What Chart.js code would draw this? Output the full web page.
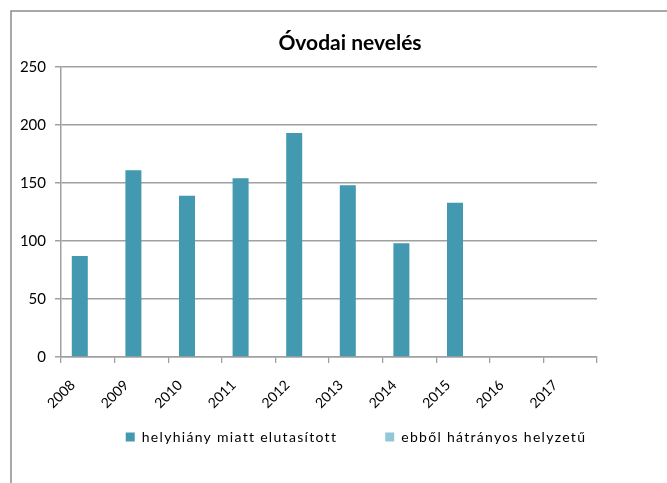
<!DOCTYPE html>
<html>
<head>
<meta charset="utf-8">
<script src="https://cdn.jsdelivr.net/npm/chart.js@4/dist/chart.umd.min.js"></script>
<style>
  html, body { margin: 0; padding: 0; background: #fff; overflow: hidden; }
  #wrap { position: absolute; left: 0; top: 0; width: 700px; height: 483px; }
</style>
</head>
<body>
<div id="wrap"><canvas id="chart" width="700" height="483"></canvas></div>
<script>
// evek (kategoriak)
const years = ['2008', '2009', '2010', '2011', '2012', '2013', '2014', '2015', '2016', '2017'];
// helyhiany miatt elutasitott
const elutasitott = [87, 161, 139, 154, 193, 148, 98, 133, null, null];
// ebbol hatranyos helyzetu - nincs oszlop a kepen
const hatranyos = [null, null, null, null, null, null, null, null, null, null];
const yMin = 0, yMax = 250, yStep = 50;

const gridColor = '#a0a0a0';
const fontFamily = 'Lato, "Open Sans", sans-serif';
const legendSpacing = '1.3px';
const legendShift = 6;

// kulso keret (bal es felso vonal)
const framePlugin = {
  id: 'frame',
  beforeDraw(chart) {
    const c = chart.ctx;
    c.save();
    c.strokeStyle = '#8c8c8c';
    c.lineWidth = 1.5;
    c.beginPath();
    c.moveTo(11, chart.height);
    c.lineTo(11, 11);
    c.lineTo(chart.width, 11);
    c.stroke();
    c.restore();
  }
};

// a jelmagyarazat szovege ritkitott, mint az eredetiben
const spacedLegend = {
  id: 'spacedLegend',
  beforeLayout(chart) {
    const lg = chart.legend;
    if (!lg || lg._spaced) return;
    lg._spaced = true;
    ['fit', 'draw'].forEach(fn => {
      const orig = lg[fn].bind(lg);
      lg[fn] = function (...args) {
        const c = chart.ctx;
        c.save();
        c.letterSpacing = legendSpacing;
        if (fn === 'draw') c.translate(legendShift, 0);
        const r = orig(...args);
        c.restore();
        return r;
      };
    });
  }
};

const ctx = document.getElementById('chart').getContext('2d');
new Chart(ctx, {
  type: 'bar',
  data: {
    labels: years,
    datasets: [{
      label: 'helyhiány miatt elutasított',
      data: elutasitott,
      backgroundColor: '#4299b0',
      borderWidth: 0
    }, {
      label: 'ebből hátrányos helyzetű',
      data: hatranyos,
      backgroundColor: '#93c6d6',
      borderWidth: 0
    }]
  },
  options: {
    responsive: false,
    animation: false,
    datasets: {
      bar: { categoryPercentage: 0.597, barPercentage: 1 }
    },
    layout: { padding: { top: 0, left: 0, right: 0, bottom: 29 } },
    plugins: {
      title: {
        display: true,
        text: 'Óvodai nevelés',
        color: '#000',
        font: { family: fontFamily, size: 21, weight: 'bold' },
        padding: { top: 30.2, bottom: 11.6 }
      },
      legend: {
        position: 'bottom',
        labels: {
          color: '#000',
          font: { family: fontFamily, size: 14 },
          boxWidth: 9,
          boxHeight: 9,
          padding: 48
        }
      },
      tooltip: { enabled: false }
    },
    scales: {
      x: {
        grid: { drawOnChartArea: false, drawTicks: true, tickLength: 6, offset: true, color: gridColor, lineWidth: 1.3 },
        border: { color: gridColor, width: 1.5 },
        ticks: {
          color: '#000',
          font: { family: fontFamily, size: 14 },
          minRotation: 45,
          maxRotation: 45,
          padding: 14,
          labelOffset: -15
        },
        afterFit(scale) {
          scale.height = 25;
          // ne vagja le a forgatott feliratokat
          scale._computeLabelArea = () => undefined;
        }
      },
      y: {
        min: yMin,
        max: yMax,
        ticks: {
          stepSize: yStep,
          color: '#000',
          font: { family: fontFamily, size: 15 },
          padding: 9
        },
        grid: { color: gridColor, lineWidth: 1.5, tickLength: 6 },
        border: { color: gridColor, width: 1.5 },
        afterFit(scale) { scale.width = 61; }
      },
      // ures jobb oldali tengely, hogy a cim es a jelmagyarazat jo helyre keruljon
      yRight: {
        position: 'right',
        display: true,
        grid: { display: false },
        border: { display: false },
        ticks: { display: false },
        afterFit(scale) { scale.width = 103; }
      }
    }
  },
  plugins: [framePlugin, spacedLegend]
});
</script>
</body>
</html>
